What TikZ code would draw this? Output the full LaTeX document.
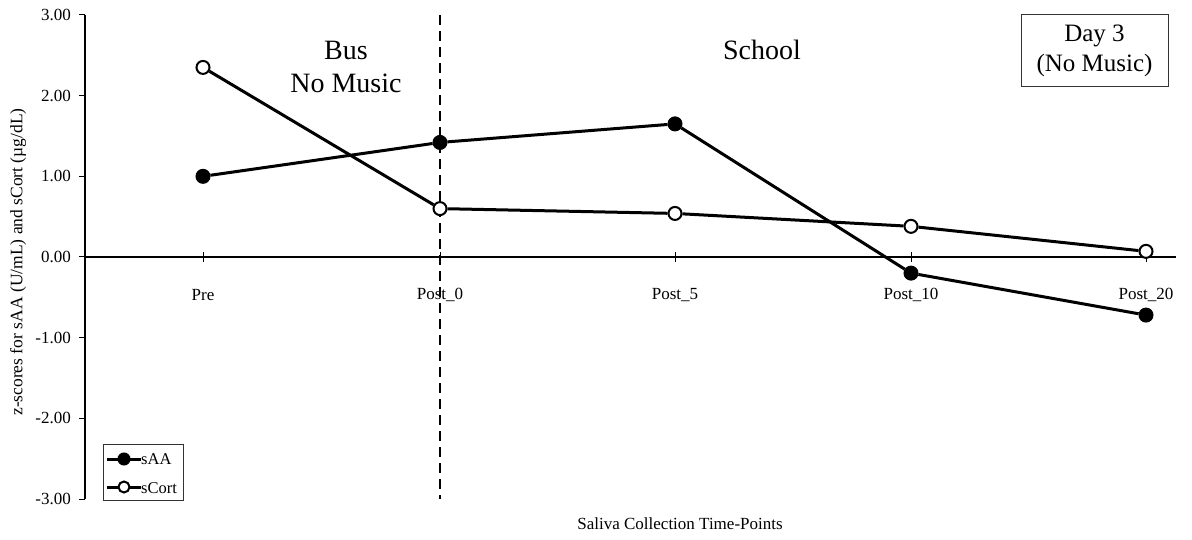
\documentclass[tikz,border=0pt]{standalone}
\usepackage{fontspec}
\setmainfont{Liberation Serif}
\begin{document}
\begin{tikzpicture}[x=1pt,y=-1pt,
  dataline/.style={line width=3pt},
  saa/.style={circle,fill=black,draw=black,line width=1pt,minimum size=14pt,inner sep=0pt},
  scort/.style={circle,fill=white,draw=black,line width=2pt,minimum size=13pt,inner sep=0pt},
  ticklab/.style={font=\fontsize{17}{20}\selectfont},
  biglab/.style={font=\fontsize{28}{33}\selectfont,align=center},
  leglab/.style={font=\fontsize{16.5}{19}\selectfont,anchor=west,inner sep=0pt}]
\useasboundingbox[fill=white] (0,0) rectangle (1192,540);
% axes
\draw[line width=1.2pt] (85,15) -- (85,499);
\draw[line width=2pt] (85,257) -- (1176,257);
\foreach \v/\lab in {3/3.00,2/2.00,1/1.00,0/0.00,-1/-1.00,-2/-2.00,-3/-3.00}{
  \draw[line width=1pt] (79,{257-80.67*\v}) -- (85,{257-80.67*\v});
  \node[ticklab,anchor=east,inner sep=0pt] (yl\v) at (71,{257-80.67*\v}) {\lab};
}
\foreach \x/\lab/\n in {203/Pre/c1,440/Post\_0/c2,675/Post\_5/c3,911/Post\_10/c4,1146/Post\_20/c5}{
  \draw[line width=1pt] (\x,252) -- (\x,262);
  \node[ticklab,inner sep=0pt] (\n) at (\x,295) {\lab};
}
% dashed divider
\draw[line width=2pt,dash pattern=on 10pt off 6pt] (440,15) -- (440,499);
% data
\begin{scope}[shift={(0,257)},y=80.67pt]
\node[scort] (s1) at (203,2.35) {};
\node[scort] (s2) at (440,0.60) {};
\node[scort] (s3) at (675,0.54) {};
\node[scort] (s4) at (911,0.38) {};
\node[scort] (s5) at (1146,0.07) {};
\node[saa] (a1) at (203,1.00) {};
\node[saa] (a2) at (440,1.42) {};
\node[saa] (a3) at (675,1.65) {};
\node[saa] (a4) at (911,-0.20) {};
\node[saa] (a5) at (1146,-0.72) {};
\end{scope}
\draw[dataline] (a1) -- (a2) -- (a3) -- (a4) -- (a5);
\draw[dataline] (s1) -- (s2) -- (s3) -- (s4) -- (s5);
% labels
\node[biglab] (bus) at (346,67) {Bus\\No Music};
\node[biglab] (school) at (762,50) {School};
\node[draw=black!80,line width=1pt,minimum width=147pt,minimum height=72pt,biglab,font=\fontsize{25}{30}\selectfont] (day) at (1094.5,51) {Day 3\\(No Music)};
% axis titles
\node[ticklab,rotate=90,font=\fontsize{17.5}{20}\selectfont] (ytitle) at (18,262) {z-scores for sAA (U/mL) and sCort (µg/dL)};
\node[ticklab] (xtitle) at (680,524) {Saliva Collection Time-Points};
% legend
\node[draw=black!80,line width=1pt,minimum width=80pt,minimum height=56pt,inner sep=0pt] (leg) at (143,472) {};
\coordinate (la0) at (107,459); \coordinate (la1) at (141,459);
\coordinate (lb0) at (107,487); \coordinate (lb1) at (141,487);
\draw[dataline] (la0) -- (la1);
\draw[dataline] (lb0) -- (lb1);
\node[saa,minimum size=12pt] (lam) at (124,459) {};
\node[scort,minimum size=11pt] (lbm) at (124,487) {};
\node[leglab] (lat) at (141,459) {sAA};
\node[leglab] (lbt) at (141,488) {sCort};
\end{tikzpicture}
\end{document}
